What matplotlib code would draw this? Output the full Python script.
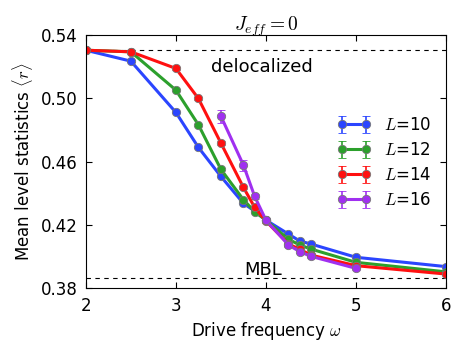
import matplotlib
matplotlib.use("Agg")
import matplotlib.pyplot as plt
from matplotlib.legend_handler import HandlerErrorbar

plt.rcParams['mathtext.fontset'] = 'cm'
plt.rcParams['font.family'] = 'DejaVu Sans'

# Drive frequencies and mean <r> for each system size
w10 = [2.0, 2.5, 3.0, 3.25, 3.5, 3.75, 3.875, 4.0, 4.25, 4.375, 4.5, 5.0, 6.0]
r10 = [0.5305, 0.5236, 0.4912, 0.4691, 0.4507, 0.4337, 0.4288, 0.4231, 0.4143, 0.4099, 0.4080, 0.3996, 0.3937]
e10 = [0.0005] * len(w10)

w12 = [2.0, 2.5, 3.0, 3.25, 3.5, 3.75, 3.875, 4.0, 4.25, 4.375, 4.5, 5.0, 6.0]
r12 = [0.5305, 0.5295, 0.5053, 0.4834, 0.4552, 0.4360, 0.4284, 0.4231, 0.4110, 0.4074, 0.4048, 0.3964, 0.3904]
e12 = [0.0007] * len(w12)

w14 = [2.0, 2.5, 3.0, 3.25, 3.5, 3.75, 3.875, 4.0, 4.25, 4.375, 4.5, 5.0, 6.0]
r14 = [0.5305, 0.5295, 0.5190, 0.5000, 0.4718, 0.4438, 0.4312, 0.4225, 0.4080, 0.4047, 0.4010, 0.3943, 0.3890]
e14 = [0.001] * len(w14)

w16 = [3.5, 3.75, 3.875, 4.0, 4.25, 4.375, 4.5, 5.0]
r16 = [0.4888, 0.4579, 0.4381, 0.4231, 0.4074, 0.4032, 0.4002, 0.3926]
e16 = [0.004, 0.0035, 0.0015, 0.001, 0.001, 0.001, 0.001, 0.001]

r_goe = 0.5307
r_poisson = 0.3863

fig = plt.figure(figsize=(4.69, 3.52), dpi=100)
ax = fig.add_axes([0.183, 0.181, 0.768, 0.719])

series = [(w10, r10, e10, '#2b45ff', '10'),
          (w12, r12, e12, '#2ca02c', '12'),
          (w14, r14, e14, '#ff1010', '14'),
          (w16, r16, e16, '#a030f0', '16')]

for w, r, e, c, lab in series:
    ax.errorbar(w, r, yerr=e, color=c, lw=2.2, marker='o', ms=6,
                mfc=c, mec='#777777', mew=0.6, capsize=3, elinewidth=1.2,
                label=r'$L$=' + lab)

ax.axhline(r_goe, color='k', ls='--', lw=0.8, dashes=(4, 4))
ax.axhline(r_poisson, color='k', ls='--', lw=0.8, dashes=(4, 4))
ax.text(3.96, 0.5198, 'delocalized', fontsize=13, ha='center', va='center')
ax.text(3.97, 0.3915, 'MBL', fontsize=13, ha='center', va='center')

ax.set_xlim(2, 6)
ax.set_ylim(0.38, 0.54)
ax.set_xticks([2, 3, 4, 5, 6])
ax.set_yticks([0.38, 0.42, 0.46, 0.50, 0.54])
ax.set_yticklabels(['0.38', '0.42', '0.46', '0.50', '0.54'])
ax.tick_params(direction='in', top=True, right=True, labelsize=12, length=4, pad=6)
ax.set_xlabel(r'Drive frequency $\omega$', fontsize=12)
ax.set_ylabel(r'Mean level statistics $\langle r \rangle$', fontsize=12)
ax.set_title(r'$J_{eff}=0$', fontsize=14, pad=3)

handles, labels = ax.get_legend_handles_labels()
hmap = {h: HandlerErrorbar(numpoints=2) for h in handles}
ax.legend(handles, labels, loc='upper right', bbox_to_anchor=(1.0, 0.74),
          frameon=False, fontsize=12, handlelength=2.0, handletextpad=0.78,
          labelspacing=0.42, handler_map=hmap)

fig.savefig('out.png', dpi=100)
